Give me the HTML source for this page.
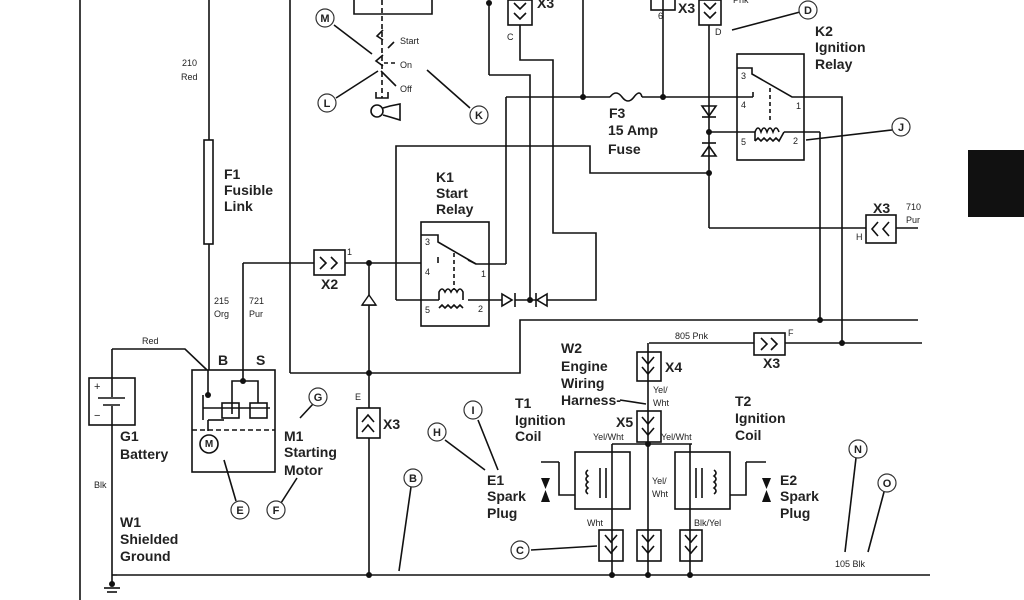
<!DOCTYPE html>
<html><head><meta charset="utf-8"><style>
html,body{margin:0;padding:0;background:#fff;width:1024px;height:600px;overflow:hidden}
svg{display:block}
text{font-family:"Liberation Sans",Arial,sans-serif;fill:#222}
.b{font-weight:bold;font-size:14px}
.s{font-size:9px;fill:#444}
.n{font-size:9px;fill:#555}
</style></head><body>
<svg width="1024" height="600" viewBox="0 0 1024 600" xmlns="http://www.w3.org/2000/svg">
<g stroke="#111" stroke-width="1.6" fill="none">
<line x1="80" y1="0" x2="80" y2="600"/>
<line x1="209" y1="0" x2="209" y2="140"/>
<rect x="204" y="140" width="9" height="104"/>
<line x1="209" y1="244" x2="209" y2="370"/>
<line x1="243" y1="263" x2="243" y2="370"/>
<line x1="290" y1="0" x2="290" y2="373"/>
<polyline points="290,373 520,373 520,320 918,320"/>
<line x1="243" y1="263" x2="314" y2="263"/>
<rect x="314" y="250" width="31" height="25"/>
<polyline points="320,257 326,263 320,269"/><polyline points="331,257 337,263 331,269"/>
<line x1="345" y1="263" x2="421" y2="263"/>
<line x1="369" y1="263" x2="369" y2="408"/>
<line x1="362" y1="305" x2="376" y2="305"/>
<rect x="357" y="408" width="23" height="30"/>
<polyline points="362,422 368,415 374,422"/><polyline points="362,432 368,425 374,432"/>
<line x1="369" y1="438" x2="369" y2="575"/>
<line x1="117" y1="575" x2="930" y2="575"/>
<line x1="112" y1="575" x2="117" y2="575"/>
<polyline points="112,349 185,349 207,370"/>
<line x1="112" y1="349" x2="112" y2="378"/>
<rect x="89" y="378" width="46" height="47"/>
<line x1="98" y1="398" x2="125" y2="398"/><line x1="103" y1="405" x2="120" y2="405"/>
<line x1="112" y1="378" x2="112" y2="397"/><line x1="112" y1="406" x2="112" y2="425"/>
<line x1="112" y1="425" x2="112" y2="584"/>
<line x1="104" y1="588" x2="120" y2="588"/><line x1="107" y1="592" x2="117" y2="592"/>
<rect x="192" y="370" width="83" height="102"/>
<line x1="192" y1="430" x2="275" y2="430" stroke-dasharray="5,3"/>
<line x1="208" y1="370" x2="208" y2="395"/>
<line x1="243" y1="370" x2="243" y2="381"/>
<polyline points="232,414 232,381 258,381 258,403"/>
<line x1="203" y1="395" x2="203" y2="420"/>
<line x1="203" y1="408" x2="270" y2="408"/>
<rect x="222" y="403" width="17" height="15"/><rect x="250" y="403" width="17" height="15"/>
<polyline points="208,420 208,420 208,431"/>
<line x1="208" y1="420" x2="224" y2="420"/>
<circle cx="209" cy="444" r="9"/>
<polyline points="354,0 354,14 432,14 432,0"/>
<line x1="382" y1="0" x2="382" y2="98" stroke-dasharray="5,3"/>
<polyline points="383,30 377,36 383,40"/><line x1="388" y1="48" x2="394" y2="42"/>
<polyline points="383,55 376,61 383,66"/>
<line x1="384" y1="63" x2="396" y2="63" stroke-dasharray="4,3"/>
<line x1="381" y1="71" x2="396" y2="86"/>
<polyline points="376,92 376,98 388,98 388,92"/>
<circle cx="377" cy="111" r="6"/><polyline points="383,108 390,106 400,104 400,120 390,117 383,115"/>
<line x1="334" y1="25" x2="372" y2="54"/>
<line x1="336" y1="98" x2="378" y2="71"/>
<line x1="427" y1="70" x2="470" y2="108"/>
<line x1="489" y1="3" x2="489" y2="75"/><polyline points="489,75 530,75 530,300"/>
<rect x="508" y="0" width="24" height="25"/>
<polyline points="514,3 520,9 526,3"/><polyline points="514,13 520,19 526,13"/>
<polyline points="520,25 520,60 553,60 553,233 596,233 596,300 547,300"/>
<line x1="506" y1="97" x2="506" y2="264"/><polyline points="506,264 476,264 468,260"/>
<line x1="506" y1="97" x2="610" y2="97"/>
<path d="M610,97 q6,-8 12,0 t12,0 t8,0"/>
<line x1="642" y1="97" x2="753" y2="97"/>
<line x1="583" y1="0" x2="583" y2="97"/>
<line x1="663" y1="0" x2="663" y2="97"/>
<rect x="651" y="-2" width="24" height="12"/>
<rect x="699" y="0" width="22" height="25"/>
<polyline points="704,3 710,9 716,3"/><polyline points="704,12 710,18 716,12"/>
<line x1="709" y1="25" x2="709" y2="228"/>
<polygon points="702,106 716,106 709,116"/><line x1="702" y1="117" x2="716" y2="117"/>
<polygon points="702,156 716,156 709,146"/><line x1="702" y1="143" x2="716" y2="143"/>
<polyline points="709,228 866,228"/>
<rect x="866" y="215" width="30" height="28"/>
<polyline points="878,222 872,229 878,236"/><polyline points="889,222 883,229 889,236"/>
<line x1="896" y1="228" x2="918" y2="228"/>
<polyline points="396,300 396,146 590,146 590,173 709,173"/>
<rect x="737" y="54" width="67" height="106"/>
<polyline points="737,68 752,68 752,74 792,97 842,97 842,343"/>
<line x1="753" y1="97" x2="753" y2="92"/>
<line x1="770" y1="88" x2="770" y2="123" stroke-dasharray="4,3"/>
<polyline points="709,132 755,132 755,141"/>
<path d="M755,132 q3,-8 6,0 q3,-8 6,0 q3,-8 6,0 q3,-8 6,0 M755,141 l3,-3 l3,3 l3,-3 l3,3 l3,-3 l3,3 l3,-3 l3,3 L784,132"/>
<line x1="784" y1="132" x2="820" y2="132"/><line x1="820" y1="132" x2="820" y2="320"/>
<line x1="806" y1="140" x2="892" y2="130"/>
<line x1="732" y1="30" x2="800" y2="12"/>
<rect x="421" y="222" width="68" height="104"/>
<polyline points="421,235 438,235 438,242 476,264"/>
<line x1="438" y1="263" x2="438" y2="257"/>
<line x1="454" y1="253" x2="454" y2="290" stroke-dasharray="4,3"/>
<polyline points="396,300 439,300"/>
<path d="M439,300 l0,-8 q3,-6 6,0 q3,-6 6,0 q3,-6 6,0 q3,-6 6,0 l0,8 M439,308 l3,-3 l3,3 l3,-3 l3,3 l3,-3 l3,3 l3,-3 l3,3"/>
<line x1="468" y1="300" x2="502" y2="300"/>
<polygon points="502,294 502,306 512,300"/><line x1="515" y1="293" x2="515" y2="307"/>
<line x1="515" y1="300" x2="536" y2="300"/>
<polygon points="547,294 547,306 537,300"/><line x1="536" y1="293" x2="536" y2="307"/>
<line x1="649" y1="343" x2="754" y2="343"/>
<rect x="754" y="333" width="31" height="22"/>
<polyline points="761,338 767,344 761,350"/><polyline points="771,338 777,344 771,350"/>
<line x1="785" y1="343" x2="922" y2="343"/>
<rect x="637" y="352" width="24" height="29"/>
<polyline points="642,357 648,364 654,357"/><polyline points="642,367 648,374 654,367"/>
<rect x="637" y="411" width="24" height="31"/>
<polyline points="642,417 648,424 654,417"/><polyline points="642,428 648,435 654,428"/>
<line x1="648" y1="343" x2="648" y2="575"/>
<line x1="620" y1="400" x2="646" y2="404"/>
<line x1="612" y1="444" x2="692" y2="444"/>
<rect x="575" y="452" width="55" height="57"/><rect x="675" y="452" width="55" height="57"/>
<line x1="612" y1="444" x2="612" y2="575"/><line x1="690" y1="444" x2="690" y2="575"/>
<path d="M606,468 v30 M600,468 v30 M588,470 q-4,3 0,6 q-4,3 0,6 q-4,3 0,6 q-4,3 0,6"/>
<path d="M696,468 v30 M702,468 v30 M714,470 q4,3 0,6 q4,3 0,6 q4,3 0,6 q4,3 0,6"/>
<polyline points="559,462 559,495 575,495"/><line x1="541" y1="462" x2="559" y2="462"/>
<polyline points="746,462 746,495 730,495"/><line x1="746" y1="462" x2="766" y2="462"/>
<rect x="599" y="530" width="24" height="31"/><rect x="637" y="530" width="24" height="31"/><rect x="680" y="530" width="22" height="31"/>
<polyline points="605,535 611,542 617,535"/><polyline points="605,546 611,553 617,546"/>
<polyline points="642,535 648,542 654,535"/><polyline points="642,546 648,553 654,546"/>
<polyline points="685,535 691,542 697,535"/><polyline points="685,546 691,553 697,546"/>
<line x1="531" y1="550" x2="597" y2="546"/>
<line x1="478" y1="420" x2="498" y2="470"/><line x1="445" y1="440" x2="485" y2="470"/>
<line x1="411" y1="487" x2="399" y2="571"/>
<line x1="224" y1="460" x2="236" y2="501"/><line x1="297" y1="478" x2="281" y2="503"/>
<line x1="313" y1="404" x2="300" y2="418"/>
<line x1="856" y1="458" x2="845" y2="552"/><line x1="884" y1="492" x2="868" y2="552"/>
</g>
<g fill="#111">
<polygon points="541,478 550,478 545.5,489"/><polygon points="545.5,490 550,502 541,502"/>
<polygon points="762,478 771,478 766.5,489"/><polygon points="766.5,490 771,502 762,502"/>
<circle cx="489" cy="3" r="3"/><circle cx="583" cy="97" r="3"/><circle cx="663" cy="97" r="3"/>
<circle cx="709" cy="132" r="3"/><circle cx="709" cy="173" r="3"/><circle cx="369" cy="263" r="3"/>
<circle cx="530" cy="300" r="3"/><circle cx="369" cy="373" r="3"/><circle cx="369" cy="575" r="3"/>
<circle cx="612" cy="575" r="3"/><circle cx="648" cy="575" r="3"/><circle cx="690" cy="575" r="3"/>
<circle cx="648" cy="444" r="3"/><circle cx="820" cy="320" r="3"/><circle cx="842" cy="343" r="3"/>
<circle cx="208" cy="395" r="3"/><circle cx="243" cy="381" r="3"/><circle cx="112" cy="584" r="3"/>
<rect x="968" y="150" width="56" height="67"/>
</g>
<polygon points="362,305 376,305 369,295" fill="#fff" stroke="#111" stroke-width="1.4"/>
<g fill="#fff" stroke="#333" stroke-width="1.2">
<circle cx="325" cy="18" r="9"/><circle cx="327" cy="103" r="9"/><circle cx="479" cy="115" r="9"/>
<circle cx="808" cy="10" r="9"/><circle cx="901" cy="127" r="9"/><circle cx="318" cy="397" r="9"/>
<circle cx="240" cy="510" r="9"/><circle cx="276" cy="510" r="9"/><circle cx="413" cy="478" r="9"/>
<circle cx="437" cy="432" r="9"/><circle cx="473" cy="410" r="9"/><circle cx="520" cy="550" r="9"/>
<circle cx="858" cy="449" r="9"/><circle cx="887" cy="483" r="9"/>
</g>
<g font-size="11" text-anchor="middle" font-weight="bold">
<text x="325" y="22">M</text><text x="327" y="107">L</text><text x="479" y="119">K</text>
<text x="808" y="14">D</text><text x="901" y="131">J</text><text x="318" y="401">G</text>
<text x="240" y="514">E</text><text x="276" y="514">F</text><text x="413" y="482">B</text>
<text x="437" y="436">H</text><text x="473" y="414">I</text><text x="520" y="554">C</text>
<text x="858" y="453">N</text><text x="887" y="487">O</text>
</g>
<text x="209" y="447" font-size="10" font-weight="bold" text-anchor="middle">M</text>
<text x="94" y="390" font-size="11">+</text><text x="94" y="419" font-size="11">−</text>
<g class="b">
<text x="224" y="179">F1</text><text x="224" y="195">Fusible</text><text x="224" y="211">Link</text>
<text x="436" y="182">K1</text><text x="436" y="198">Start</text><text x="436" y="214">Relay</text>
<text x="321" y="289">X2</text>
<text x="609" y="118">F3</text><text x="608" y="135">15 Amp</text><text x="608" y="154">Fuse</text>
<text x="815" y="36">K2</text><text x="815" y="52">Ignition</text><text x="815" y="69">Relay</text>
<text x="873" y="213">X3</text>
<text x="537" y="8">X3</text><text x="678" y="13">X3</text>
<text x="218" y="365">B</text><text x="256" y="365">S</text>
<text x="120" y="441">G1</text><text x="120" y="459">Battery</text>
<text x="284" y="441">M1</text><text x="284" y="457">Starting</text><text x="284" y="475">Motor</text>
<text x="383" y="429">X3</text>
<text x="120" y="527">W1</text><text x="120" y="544">Shielded</text><text x="120" y="561">Ground</text>
<text x="561" y="353">W2</text><text x="561" y="371">Engine</text><text x="561" y="388">Wiring</text><text x="561" y="405">Harness-</text>
<text x="665" y="372">X4</text><text x="616" y="427">X5</text><text x="763" y="368">X3</text>
<text x="515" y="408">T1</text><text x="515" y="425">Ignition</text><text x="515" y="441">Coil</text>
<text x="735" y="406">T2</text><text x="735" y="423">Ignition</text><text x="735" y="440">Coil</text>
<text x="487" y="485">E1</text><text x="487" y="501">Spark</text><text x="487" y="518">Plug</text>
<text x="780" y="485">E2</text><text x="780" y="501">Spark</text><text x="780" y="518">Plug</text>
</g>
<g class="s">
<text x="182" y="66">210</text><text x="181" y="80">Red</text>
<text x="214" y="304">215</text><text x="214" y="317">Org</text>
<text x="249" y="304">721</text><text x="249" y="317">Pur</text>
<text x="142" y="344">Red</text><text x="94" y="488">Blk</text>
<text x="400" y="44">Start</text><text x="400" y="68">On</text><text x="400" y="92">Off</text>
<text x="906" y="210">710</text><text x="906" y="223">Pur</text>
<text x="733" y="3">Pnk</text>
<text x="675" y="339">805 Pnk</text>
<text x="653" y="393">Yel/</text><text x="653" y="406">Wht</text>
<text x="593" y="440">Yel/Wht</text><text x="661" y="440">Yel/Wht</text>
<text x="652" y="484">Yel/</text><text x="652" y="497">Wht</text>
<text x="587" y="526">Wht</text><text x="694" y="526">Blk/Yel</text>
<text x="835" y="567">105 Blk</text>
</g>
<g class="n">
<text x="507" y="40">C</text><text x="715" y="35">D</text><text x="658" y="19">6</text>
<text x="347" y="255">1</text><text x="425" y="245">3</text><text x="425" y="275">4</text><text x="481" y="277">1</text>
<text x="425" y="313">5</text><text x="478" y="312">2</text>
<text x="741" y="79">3</text><text x="741" y="108">4</text><text x="796" y="109">1</text><text x="741" y="145">5</text><text x="793" y="144">2</text>
<text x="856" y="240">H</text><text x="788" y="336">F</text><text x="355" y="400">E</text>
</g>
</svg>
</body></html>
